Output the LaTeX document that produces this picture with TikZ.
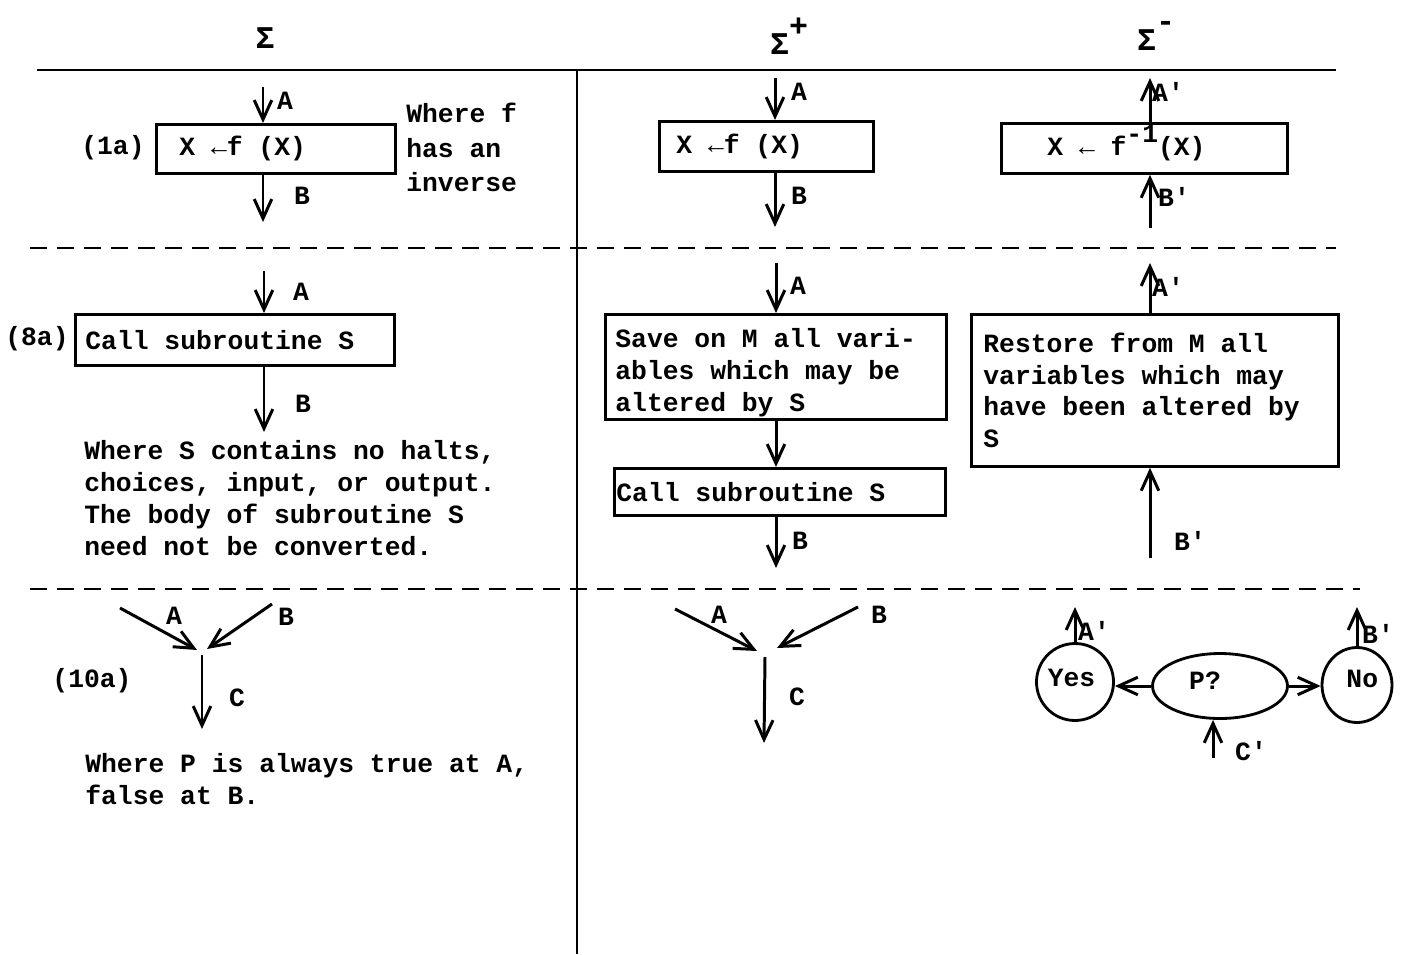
\documentclass[tikz,border=0pt]{standalone}
\usepackage{fontspec}
\setmonofont{Liberation Mono}
\usetikzlibrary{arrows.meta,shapes.geometric}
\newcommand{\monospace}{\setlength{\spaceskip}{9pt}}

\begin{document}
\begin{tikzpicture}[x=0.02cm,y=-0.02cm,
  font=\ttfamily\bfseries\fontsize{15}{18.2}\selectfont,
  box/.style={draw,line width=1.6pt,anchor=north west,align=left,inner ysep=0pt,
              execute at begin node={\monospace}},
  flow/.style={line width=1.7pt,-{Straight Barb[length=11pt,width=10pt]}},
  lbl/.style={inner sep=0pt},
  note/.style={anchor=north west,align=left,inner sep=0pt},
  state/.style={draw,ellipse,line width=1.6pt,inner sep=0pt},
  head/.style={font=\ttfamily\bfseries\fontsize{18}{20}\selectfont},
  rule/.style={line width=1.2pt},
  split/.style={rule,dash pattern=on 0.34cm off 0.2cm}]

\useasboundingbox (0,0) rectangle (1410,954);

% column heads and rules
\node[head] (hS) at (265,38) {Σ};
\node[head] (hP) at (789,36) {Σ\raisebox{1.1ex}{+}};
\node[head] (hM) at (1156,36) {Σ\raisebox{1.1ex}{-}};

\draw[rule] (37,70) -- (1336,70);
\draw[line width=1.7pt] (577,70) -- (577,954);
\draw[split] (30,248) -- (1336,248);
\draw[split] (30,589) -- (1360,589);

% (1a)
\node[box,text width=3.86cm,inner xsep=0.46cm,minimum height=0.98cm] (f1) at (155,123) {X ←f (X)};
\node[lbl] (t1a) at (113,148) {(1a)};
\node[note,font=\ttfamily\bfseries\fontsize{15}{19.6}\selectfont] (nf) at (406,103) {Where f\\has an\\inverse};
\coordinate (a1) at (263,87);
\coordinate (b1) at (263,222);
\draw[flow] (a1) -- (a1 |- f1.north);
\draw[flow] (b1 |- f1.south) -- (b1);
\node[lbl] (la1) at (285,101) {A};
\node[lbl] (lb1) at (302,196) {B};

\node[box,text width=3.6cm,inner xsep=0.34cm,minimum height=1cm] (f2) at (658,120) {X ←f (X)};
\coordinate (a2) at (775,78);
\coordinate (b2) at (775,227);
\draw[flow] (a2) -- (a2 |- f2.north);
\draw[flow] (b2 |- f2.south) -- (b2);
\node[lbl] (la2) at (799,92) {A};
\node[lbl] (lb2) at (799,196) {B};

\node[box,text width=3.88cm,inner xsep=0.92cm,minimum height=1cm] (g1) at (1000,122) {X ← f\smash{\raisebox{0.9ex}{-1}}(X)};
\coordinate (a3) at (1150,78);
\coordinate (b3) at (1150,228);
\draw[flow] (a3 |- g1.north) -- (a3);
\draw[flow] (b3) -- (b3 |- g1.south);
\node[lbl] (la3) at (1168,92) {A'};
\node[lbl] (lb3) at (1174,197) {B'};

% (8a)
\node[box,text width=5.98cm,inner xsep=0.2cm,minimum height=1.02cm] (c1) at (74,313) {Call subroutine S};
\node[lbl] (t8a) at (37,339) {(8a)};
\coordinate (a4) at (264,271);
\coordinate (b4) at (264,432);
\draw[flow] (a4) -- (a4 |- c1.north);
\draw[flow] (b4 |- c1.south) -- (b4);
\node[lbl] (la4) at (301,292) {A};
\node[lbl] (lb4) at (303,404) {B};
\node[note] (ns) at (84,440) {Where S contains no halts,\\choices, input, or output.\\The body of subroutine S\\need not be converted.};

\node[box,text width=6.42cm,inner xsep=0.2cm,minimum height=2.1cm] (sv) at (604,313) {\rule{0pt}{17pt}Save on M all vari-\\ables which may be\\altered by S};
\node[box,text width=6.54cm,inner xsep=0.04cm,minimum height=0.94cm] (c2) at (613,467) {Call subroutine S};
\coordinate (a5) at (776,263);
\coordinate (b5) at (776,568);
\draw[flow] (a5) -- (a5 |- sv.north);
\draw[flow] (a5 |- sv.south) -- (a5 |- c2.north);
\draw[flow] (b5 |- c2.south) -- (b5);
\node[lbl] (la5) at (798,286) {A};
\node[lbl] (lb5) at (800,541) {B};

\node[box,text width=6.86cm,inner xsep=0.24cm,minimum height=3.04cm] (rs) at (970,313) {Restore from M all\\variables which may\\have been altered by\\S};
\coordinate (a6) at (1150,263);
\coordinate (b6) at (1150,558);
\draw[flow] (a6 |- rs.north) -- (a6);
\draw[flow] (b6) -- (b6 |- rs.south);
\node[lbl] (la6) at (1168,287) {A'};
\node[lbl] (lb6) at (1190,541) {B'};

% (10a)
\node[lbl] (t10a) at (92,681) {(10a)};
\coordinate (p7A) at (120,608);
\coordinate (p7B) at (272,604);
\coordinate (j7l) at (197,650);
\coordinate (j7r) at (207,649);
\coordinate (j7c) at (202,655);
\coordinate (e7) at (202,729);
\draw[flow] (p7A) -- (j7l);
\draw[flow] (p7B) -- (j7r);
\draw[flow] (j7c) -- (e7);
\node[lbl] (la7) at (174,616) {A};
\node[lbl] (lb7) at (286,617) {B};
\node[lbl] (lc7) at (237,698) {C};
\node[note] (np) at (85,753) {Where P is always true at A,\\false at B.};

\coordinate (p8A) at (675,609);
\coordinate (p8B) at (858,607);
\coordinate (j8l) at (757,651);
\coordinate (j8r) at (777,648);
\coordinate (j8c) at (765,657);
\coordinate (e8) at (764,743);
\draw[flow] (p8A) -- (j8l);
\draw[flow] (p8B) -- (j8r);
\draw[flow] (j8c) -- (e8);
\node[lbl] (la8) at (719,615) {A};
\node[lbl] (lb8) at (879,615) {B};
\node[lbl] (lc8) at (797,697) {C};

\node[state,minimum width=1.4cm,minimum height=1.54cm] (yes) at (1075,682) {\raisebox{5pt}{Yes}\hspace*{4pt}};
\node[state,minimum width=2.7cm,minimum height=1.3cm] (pq) at (1220,686) {\raisebox{6pt}{P?}\hspace*{0.6cm}};
\node[state,minimum width=1.4cm,minimum height=1.5cm] (no) at (1357,685) {\hspace*{6pt}\raisebox{7pt}{No}};
\draw[flow] (pq.west) -- (pq.west -| yes.east);
\draw[flow] (pq.east) -- (pq.east -| no.west);
\coordinate (ya) at (1075,607);
\coordinate (nb) at (1357,607);
\coordinate (cc) at (1213,758);
\draw[flow] (yes.north) -- (ya);
\draw[flow] (no.north) -- (nb);
\draw[flow] (cc) -- (cc |- pq.south);
\node[lbl] (la9) at (1094,631) {A'};
\node[lbl] (lb9) at (1378,634) {B'};
\node[lbl] (lc9) at (1251,751) {C'};
\end{tikzpicture}
\end{document}
